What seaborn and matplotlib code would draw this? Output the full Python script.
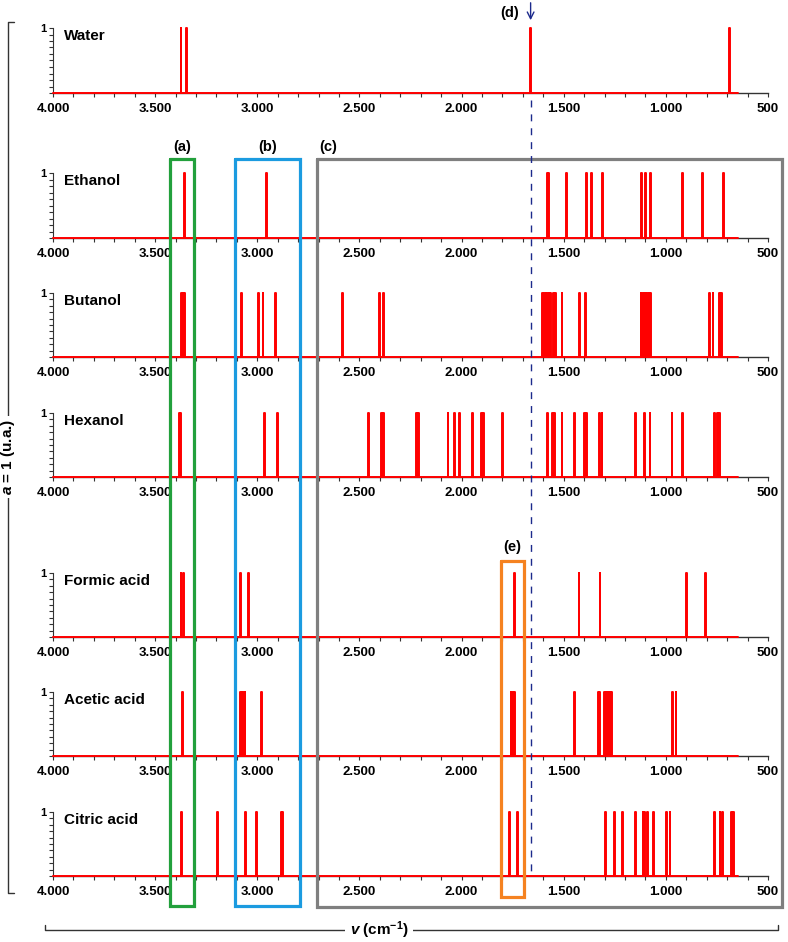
import matplotlib
matplotlib.use('Agg')
import matplotlib.pyplot as plt
import seaborn as sns
import pandas as pd
from matplotlib.ticker import MultipleLocator, FuncFormatter

sns.set_style('white')
plt.rcParams['font.family'] = ['Liberation Sans', 'DejaVu Sans']
plt.rcParams['text.color'] = 'black'
plt.rcParams['xtick.labelcolor'] = 'black'
plt.rcParams['ytick.labelcolor'] = 'black'
plt.rcParams['mathtext.fontset'] = 'custom'
plt.rcParams['mathtext.rm'] = 'Liberation Sans:bold'
plt.rcParams['mathtext.it'] = 'Liberation Sans:italic:bold'
plt.rcParams['mathtext.bf'] = 'Liberation Sans:bold'

# peak positions (cm-1), all of unit intensity
compounds = ['Water', 'Ethanol', 'Butanol', 'Hexanol', 'Formic acid', 'Acetic acid', 'Citric acid']
water = [3373, 3345, 1662, 690]
ethanol = [3356, 2955, 1580, 1573, 1487, 1389, 1365, 1311, 1120, 1098, 1076, 919, 821, 716]
butanol = [3370, 3362, 3355, 3076, 2995, 2972, 2911, 2584, 2403, 2383,
           1603, 1595, 1587, 1579, 1571, 1565, 1552, 1540, 1508, 1424, 1395,
           1122, 1114, 1106, 1098, 1090, 1082, 1075, 787, 769, 737, 729]
hexanol = [3382, 3376, 2964, 2901, 2456, 2391, 2383, 2222, 2212, 2066, 2034, 2010,
           1948, 1904, 1892, 1798, 1581, 1556, 1547, 1508, 1447, 1398, 1389, 1323,
           1313, 1150, 1104, 1078, 970, 917, 760, 748, 738]
formic = [3373, 3363, 3084, 3045, 1739, 1425, 1322, 900, 805]
acetic = [3368, 3083, 3075, 3067, 3060, 2981, 1758, 1750, 1742, 1449, 1330, 1323,
          1300, 1293, 1286, 1279, 1272, 1266, 968, 950]
citric = [3371, 3305, 3195, 3059, 3002, 2883, 2875, 1764, 1727, 1294, 1250, 1213,
          1147, 1112, 1103, 1090, 1059, 997, 980, 760, 735, 723, 679, 669]
spectra = [water, ethanol, butanol, hexanol, formic, acetic, citric]

# marked regions (cm-1)
box_names = ['(a)', '(b)', '(c)', '(e)']
box_ranges = [(3425, 3311), (3111, 2790), (2708, 433), (1807, 1693)]
box_colors = ['#22a03c', '#1b9be0', '#7f7f7f', '#f58220']
d_line = 1662

W, H = 788, 942
x_left, x_right = 53, 768
panel_top = [28, 173, 293, 413, 573, 692, 812]
panel_base = [93, 238, 357, 477, 637, 756, 876]


def stick_series(peaks, start=4000, end=645, hw=2):
    xs, ys = [start], [0]
    for p in sorted(peaks, reverse=True):
        xs += [p + hw, p + hw, p - hw, p - hw]
        ys += [0, 1, 1, 0]
    xs.append(end)
    ys.append(0)
    return pd.DataFrame({'wavenumber': xs, 'a': ys})


fig = plt.figure(figsize=(W / 100, H / 100), dpi=100)
thousands = FuncFormatter(lambda v, pos: f'{v:,.0f}'.replace(',', '.'))

for name, peaks, top, base in zip(compounds, spectra, panel_top, panel_base):
    ax = fig.add_axes([x_left / W, 1 - base / H, (x_right - x_left) / W, (base - top) / H])
    ax.patch.set_alpha(0)
    df = stick_series(peaks)
    sns.lineplot(data=df, x='wavenumber', y='a', sort=False, estimator=None,
                 color='red', lw=1.4, ax=ax, zorder=3, clip_on=False)
    ax.set_xlim(4000, 500)
    ax.set_ylim(0, 1)
    ax.set_xlabel('')
    ax.set_ylabel('')
    ax.xaxis.set_major_locator(MultipleLocator(500))
    ax.xaxis.set_minor_locator(MultipleLocator(100))
    ax.xaxis.set_major_formatter(thousands)
    ax.set_yticks([1])
    ax.yaxis.set_minor_locator(MultipleLocator(0.1))
    ax.tick_params(axis='both', which='both', direction='out', length=3, width=0.8,
                   color='#333333', bottom=True, left=True)
    ax.tick_params(axis='x', labelsize=9.5, pad=4)
    ax.tick_params(axis='y', labelsize=8, pad=2)
    for lab in ax.get_xticklabels() + ax.get_yticklabels():
        lab.set_fontweight('bold')
    for s in ['top', 'right']:
        ax.spines[s].set_visible(False)
    ax.spines['left'].set_color('#333333')
    ax.spines['bottom'].set_color('#333333')
    ax.spines['left'].set_linewidth(0.8)
    ax.spines['bottom'].set_linewidth(1.0)
    ax.text(0.016, 0.87, name, transform=ax.transAxes, fontsize=11,
            fontweight='bold', va='center', ha='left')

# overlay in wavenumber (x) and pixel rows (y)
ov = fig.add_axes([x_left / W, 0, (x_right - x_left) / W, 1])
ov.set_xlim(4000, 500)
ov.set_ylim(H, 0)
ov.axis('off')
ov.patch.set_alpha(0)

box_rows = [(159, 906), (159, 906), (159, 907), (561, 897)]
label_x = [3368, 2950, 2655, 1750]
label_y = [147, 147, 147, 547]
for nm, (v1, v2), col, (y1, y2), lx, ly in zip(box_names, box_ranges, box_colors,
                                               box_rows, label_x, label_y):
    ov.plot([v1, v2, v2, v1, v1], [y1, y1, y2, y2, y1], color=col, lw=2.3,
            clip_on=False, solid_joinstyle='miter')
    ov.text(lx, ly, nm, ha='center', va='center', fontsize=10.5, fontweight='bold')

ov.plot([d_line, d_line], [100, 876], color='#1c2a8c', lw=1, ls=(0, (5, 5)))
ov.annotate('', xy=(d_line, 23), xytext=(d_line, 0),
            arrowprops=dict(arrowstyle='->', color='#1c2a8c', lw=1, mutation_scale=12))
ov.text(1765, 13, '(d)', ha='center', va='center', fontsize=10.5, fontweight='bold')

# brackets in pixels
br = fig.add_axes([0, 0, 1, 1])
br.set_xlim(0, W)
br.set_ylim(H, 0)
br.axis('off')
br.patch.set_alpha(0)
br.plot([14, 8, 8, 14], [22, 22, 893, 893], color='#333333', lw=1)
br.text(8, 457, r'$\it{a}$ = 1 (u.a.)', rotation=90, ha='center', va='center',
        fontsize=11, fontweight='bold',
        bbox=dict(facecolor='white', edgecolor='none', pad=2))
br.plot([45, 45, 778, 778], [925, 930, 930, 925], color='#333333', lw=1)
br.text(379, 930, r'$\it{v}$ (cm$^{-1}$)', ha='center', va='center',
        fontsize=11, fontweight='bold',
        bbox=dict(facecolor='white', edgecolor='none', pad=3))

fig.savefig('out.png', dpi=100)
